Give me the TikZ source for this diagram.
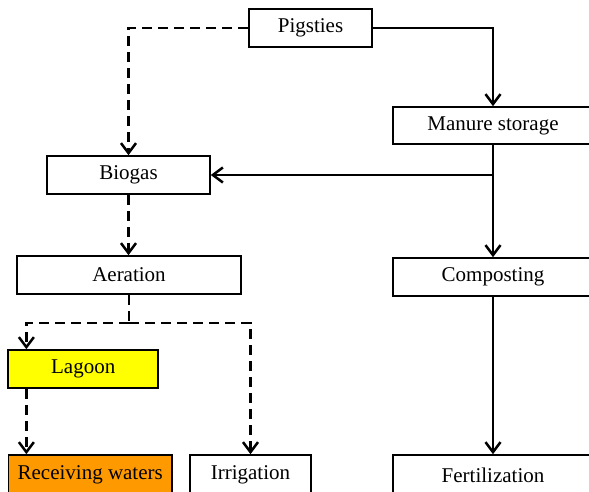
\documentclass[tikz,border=0pt]{standalone}
\usepackage{fontspec}
\setmainfont{Liberation Serif}
\usetikzlibrary{arrows.meta}
\definecolor{lagoonyellow}{HTML}{FFFF00}
\definecolor{waterorange}{HTML}{FF9900}
\begin{document}
\begin{tikzpicture}[x=1pt,y=-1pt,
  box/.style={draw=black,line width=1.6pt,rectangle,inner sep=0pt,minimum height=38pt,
    font=\fontsize{21}{25}\selectfont},
  solidarrow/.style={line width=2.5pt,-{Straight Barb[length=10pt,width=15pt]}},
  solidline/.style={line width=2.5pt},
  dasharrow/.style={line width=2.5pt,dash pattern=on 10pt off 6pt,-{Straight Barb[length=10pt,width=15pt]}},
  dashline/.style={line width=2.5pt,dash pattern=on 10pt off 6pt}]
\useasboundingbox (0,0) rectangle (589,492);
\node[box,minimum width=123pt] (pig) at (310.5,28) {Pigsties};
\node[box,minimum width=200pt,minimum height=37pt] (manure) at (493,125.5) {Manure storage};
\node[box,minimum width=163pt] (biogas) at (128.5,175) {Biogas};
\node[box,minimum width=223.5pt] (aeration) at (129,275) {Aeration};
\node[box,minimum width=200pt] (compost) at (493,277) {Composting};
\node[box,minimum width=150pt,fill=lagoonyellow] (lagoon) at (83.2,369) {Lagoon};
\node[box,minimum width=163.7pt,minimum height=40pt,fill=waterorange] (water) at (90.2,475) {Receiving waters};
\node[box,minimum width=121pt,minimum height=40pt] (irrig) at (250.5,475) {Irrigation};
\node[box,minimum width=200pt,minimum height=40pt] (fert) at (493,475) {Fertilization};
\coordinate (lt) at ([xshift=19pt]lagoon.north west);
\coordinate (split) at ([yshift=-28pt]aeration.south);
\draw[dasharrow] (pig.west) -| (biogas.north);
\draw[solidarrow] (pig.east) -| (manure.north);
\draw[solidarrow] (manure.south) -- (compost.north);
\draw[solidarrow] (manure.south |- biogas.east) -- (biogas.east);
\draw[dasharrow] (biogas.south) -- (biogas.south |- aeration.north);
\draw[dashline] (aeration.south) -- (split);
\draw[dasharrow] (split) -| (lt);
\draw[dasharrow] (split) -| (irrig.north);
\draw[dasharrow] (lt |- lagoon.south) -- (lt |- water.north);
\draw[solidarrow] (compost.south) -- (fert.north);
\end{tikzpicture}
\end{document}
